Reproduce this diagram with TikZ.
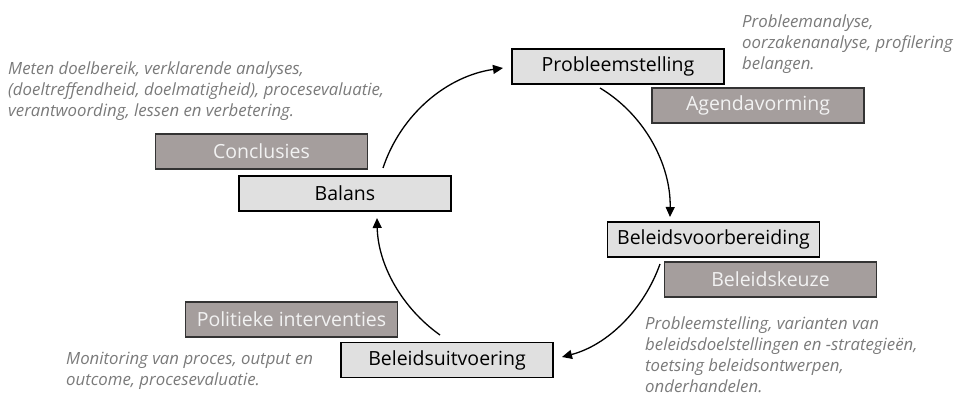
\documentclass[tikz,border=0pt]{standalone}
\usepackage{fontspec}
\setmainfont{Open Sans}
\usetikzlibrary{arrows.meta}
\definecolor{boxlight}{HTML}{E0E0E0}
\definecolor{boxdark}{HTML}{A59E9D}
\definecolor{notegray}{HTML}{7A7A7A}
\begin{document}
\begin{tikzpicture}[x=1pt,y=-1pt,
  stage/.style={draw=black, line width=1.3pt, fill=boxlight, minimum width=212pt,
    minimum height=35pt, inner sep=0pt, font=\fontsize{19.5}{22}\selectfont, text=black},
  phase/.style={draw=black!80, line width=1.3pt, fill=boxdark, minimum width=212pt,
    minimum height=35pt, inner sep=0pt, font=\fontsize{19.5}{22}\selectfont, text=white!95!black},
  note/.style={anchor=north west, inner sep=0pt, align=left, text=notegray,
    font=\fontsize{16.8}{20.8}\selectfont\itshape},
  flow/.style={line width=1.3pt, -{Triangle[length=10pt,width=9pt]}}]
\useasboundingbox (0,0) rectangle (970,393);

% stages of the cycle
\node[phase] (agenda) at (758,105.5) {Agendavorming};
\node[stage] (prob) at (618,66.5) {Probleemstelling};
\node[stage] (voor) at (713.5,239.5) {Beleidsvoorbereiding};
\node[phase] (keuze) at (770.5,279.5) {Beleidskeuze};
\node[phase] (concl) at (261.5,151.5) {Conclusies};
\node[stage] (balans) at (345,193.5) {Balans};
\node[phase] (polit) at (291.5,319.5) {Politieke interventies};
\node[stage] (uitv) at (447,360) {Beleidsuitvoering};

% descriptions
\node[note] (n1) at (8,62) {Meten doelbereik, verklarende analyses,\\(doeltreffendheid, doelmatigheid), procesevaluatie,\\verantwoording, lessen en verbetering.};
\node[note] (n2) at (742,15) {Probleemanalyse,\\oorzakenanalyse, profilering\\belangen.};
\node[note] (n3) at (645,317) {Probleemstelling, varianten van\\beleidsdoelstellingen en -strategieën,\\toetsing beleidsontwerpen,\\onderhandelen.};
\node[note] (n4) at (66,352) {Monitoring van proces, output en\\outcome, procesevaluatie.};

% connector ends
\coordinate (a1) at (383,168);
\coordinate (b1) at (503,68);
\coordinate (a2) at (600,88);
\coordinate (b2) at (670,217);
\coordinate (a3) at (660,264);
\coordinate (b3) at (562,357);
\coordinate (a4) at (440,335);
\coordinate (b4) at (377,218);

% cycle arrows
\draw[flow] (a1) .. controls (401,114) and (447,76) .. (b1);
\draw[flow] (a2) .. controls (645,115) and (671,165) .. (b2);
\draw[flow] (a3) .. controls (644,309) and (608,345) .. (b3);
\draw[flow] (a4) .. controls (402,308) and (378,265) .. (b4);
\end{tikzpicture}
\end{document}
